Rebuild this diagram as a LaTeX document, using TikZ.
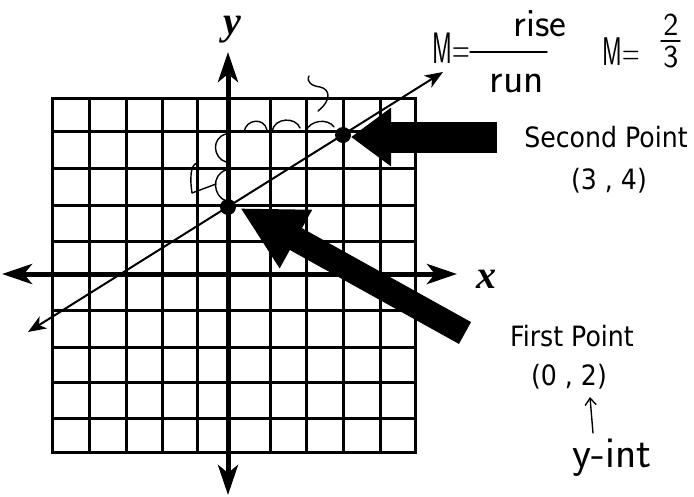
\documentclass[tikz,border=0pt]{standalone}
\usepackage{fontspec}
\usetikzlibrary{arrows.meta}
\newfontfamily\lblfont{DejaVu Sans}
\newfontfamily\axfont{Liberation Serif}
\newcommand\narrowtext[1]{\scalebox{0.9}[1]{#1}}
\begin{document}
\begin{tikzpicture}[x=1pt,y=-1pt,
  gridline/.style={line width=3pt},
  axisline/.style={line width=5pt,{Stealth[length=30pt,width=20pt,inset=8pt]}-{Stealth[length=30pt,width=20pt,inset=8pt]}},
  graphline/.style={line width=2pt,{Stealth[length=18pt,width=14pt,inset=5pt]}-{Stealth[length=18pt,width=14pt,inset=5pt]}},
  dotpt/.style={circle,fill=black,inner sep=0pt,minimum size=16pt},
  lbl/.style={font=\lblfont\fontsize{28}{30}\selectfont,inner sep=0pt},
  axlbl/.style={font=\axfont\bfseries\itshape\fontsize{40}{44}\selectfont,inner sep=0pt,anchor=base},
  hand/.style={font=\sffamily,inner sep=0pt,anchor=base},
  pen/.style={line width=1.4pt,line cap=round,line join=round}]
\useasboundingbox (0,0) rectangle (694,496);
\fill[white] (0,0) rectangle (694,496);
% grid
\foreach \x in {52,89,126,162,197,228,270,306,343,380,415}
  \draw[gridline] (\x,98) -- (\x,452);
\foreach \y in {98,131,168,205,241,273,310,347,382,418,452}
  \draw[gridline] (52,\y) -- (415,\y);
\draw[gridline,line join=miter] (52,98) rectangle (415,452);
% axes
\coordinate (ytop) at (228,52);
\coordinate (ybot) at (228,495);
\coordinate (xleft) at (2,274);
\coordinate (xright) at (457,274);
\draw[axisline] (ybot) -- (ytop);
\draw[axisline] (xleft) -- (xright);
\node[axlbl] (ylab) at (232,34) {y};
\node[axlbl] (xlab) at (486,288) {x};
% points and line
\node[dotpt] (p1) at (228,207) {};
\node[dotpt] (p2) at (343,135) {};
\coordinate (la) at (28,332);
\coordinate (lb) at (443,72);
\draw[graphline] (la) -- (lb);
% big arrows
\coordinate (a1s) at (465,333);
\coordinate (a1e) at (240,208);
\draw[line width=25pt,-{Triangle[width=62pt,length=64pt]}] (a1s) -- (a1e);
\coordinate (a2s) at (497,137);
\coordinate (a2e) at (351,137);
\draw[line width=31pt,-{Triangle[width=56pt,length=40pt]}] (a2s) -- (a2e);
% printed labels
\node[lbl] (sp) at (606,137) {\narrowtext{Second Point}};
\node[lbl] (sc) at (609,181) {\narrowtext{(3 , 4)}};
\node[lbl] (fp) at (572,336) {\narrowtext{First Point}};
\node[lbl] (fc) at (569,377) {\narrowtext{(0 , 2)}};
% handwriting
\node[hand,font=\sffamily\fontsize{44}{48}\selectfont] (mA) at (451,63) {\scalebox{0.55}[1]{M=}};
\node[hand,font=\sffamily\fontsize{40}{44}\selectfont] (rise) at (540,36) {rise};
\draw[pen] (470,52) -- (547,52);
\node[hand,font=\sffamily\fontsize{42}{46}\selectfont] (run) at (517,92) {run};
\node[hand,font=\sffamily\fontsize{40}{44}\selectfont] (mB) at (621,65) {\scalebox{0.6}[1]{M=}};
\node[hand,font=\sffamily\fontsize{32}{36}\selectfont] (two) at (671,35) {2};
\draw[pen] (661,41) -- (680,41);
\node[hand,font=\sffamily\fontsize{32}{36}\selectfont] (three) at (671,67) {3};
\node[hand,font=\sffamily\fontsize{44}{48}\selectfont] (yint) at (612,467) {y-int};
\coordinate (ua) at (593,433);
\coordinate (ub) at (590,397);
\draw[pen,-{Straight Barb[length=7pt,width=11pt]}] (ua) -- (ub);
% rise / run marks on the grid
\draw[pen] (244,132) .. controls (246,119) and (264,117) .. (267,130);
\draw[pen] (272,131) .. controls (275,117) and (296,117) .. (300,128);
\draw[pen] (306,131) .. controls (310,120) and (328,118) .. (334,127);
\draw[pen] (226,134) .. controls (211,138) and (213,158) .. (226,162);
\draw[pen] (226,170) .. controls (211,175) and (213,196) .. (226,201);
\draw[pen] (197,163) .. controls (190,165) and (190,180) .. (192,193) -- (216,184);
\draw[pen] (309,76) .. controls (306,82) and (312,86) .. (320,87) .. controls (330,89) and (332,100) .. (318,111);
\end{tikzpicture}
\end{document}
